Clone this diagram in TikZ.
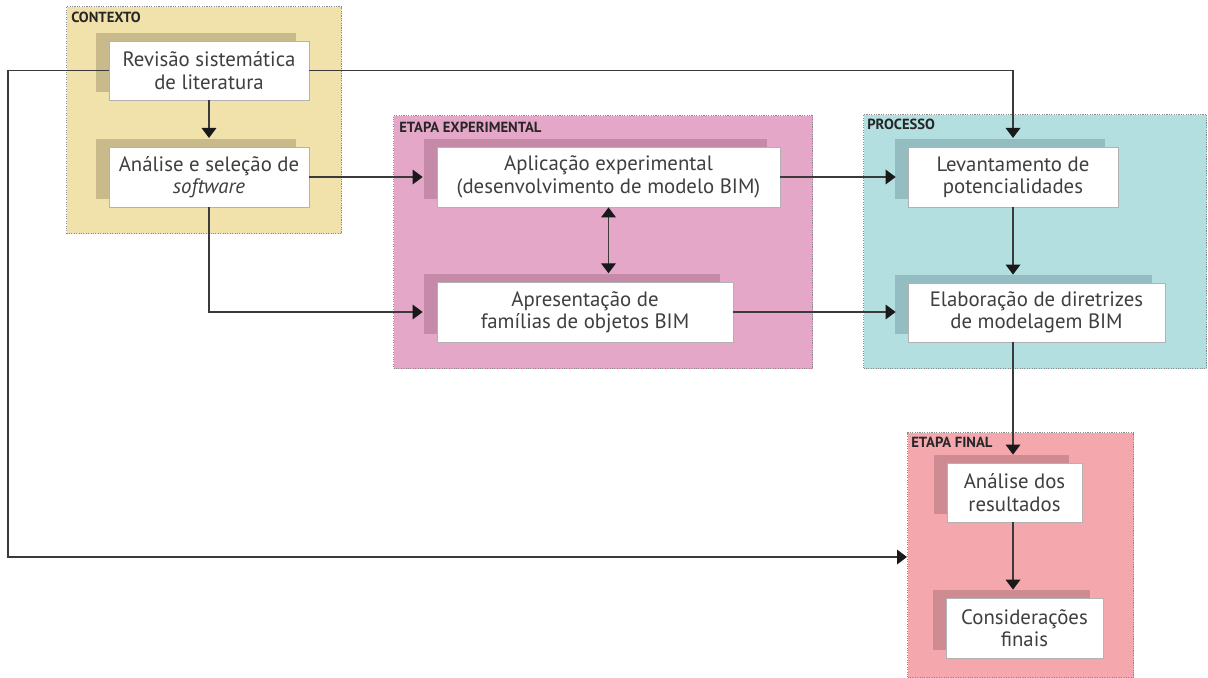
\documentclass[tikz,border=0pt]{standalone}
\usepackage{fontspec}
\setmainfont{PT Sans}
\usetikzlibrary{arrows.meta,shadows,calc}
\definecolor{ctxfill}{HTML}{F1E2AB}
\definecolor{ctxsh}{HTML}{C9BA8C}
\definecolor{expfill}{HTML}{E4A7C8}
\definecolor{expsh}{HTML}{C58AA8}
\definecolor{procfill}{HTML}{B3DFE1}
\definecolor{procsh}{HTML}{93BDC0}
\definecolor{finfill}{HTML}{F4A7AD}
\definecolor{finsh}{HTML}{CF8B92}
\definecolor{txt}{HTML}{3F3F3F}
\definecolor{ln}{HTML}{3A3A3A}
\definecolor{dotc}{HTML}{8A8A8A}
\begin{document}
\begin{tikzpicture}[x=0.75pt,y=-0.75pt,
  group/.style={draw=dotc, densely dotted, line width=0.8pt, inner sep=0pt, anchor=north west},
  grouplabel/.style={anchor=north west, inner sep=0pt, font=\bfseries\fontsize{11}{13}\selectfont, text=black!85},
  box/.style={draw=gray!60, fill=white, line width=0.6pt, align=center, inner sep=0pt, text=txt, font=\fontsize{15.6}{16.8}\selectfont},
  sh/.style={drop shadow={shadow xshift=-9.75pt, shadow yshift=6.25pt, fill=#1, opacity=1}},
  arr/.style={draw=ln, line width=1pt, -{Triangle[length=7.5pt,width=11pt,color=black!90]}},
  arrtwo/.style={draw=ln, line width=1pt, {Triangle[length=7.5pt,width=11pt,color=black!90]}-{Triangle[length=7.5pt,width=11pt,color=black!90]}}
]
\useasboundingbox (0,0) rectangle (1208,678);
\fill[white] (0,0) rectangle (1208,678);

% group boxes
\node[group, fill=ctxfill, minimum width=206.25pt, minimum height=170.25pt] (ctx) at (66,6) {};
\node[group, fill=expfill, minimum width=314.25pt, minimum height=189.75pt] (exp) at (393,115) {};
\node[group, fill=procfill, minimum width=257.25pt, minimum height=190.5pt] (proc) at (863,114) {};
\node[group, fill=finfill, minimum width=169.5pt, minimum height=183.75pt] (fin) at (907,432) {};

\node[grouplabel] (lctx) at (71,12) {CONTEXTO};
\node[grouplabel] (lexp) at (399,122) {ETAPA EXPERIMENTAL};
\node[grouplabel] (lproc) at (867,119) {PROCESSO};
\node[grouplabel] (lfin) at (911,437) {ETAPA FINAL};

% process boxes
\node[box, sh=ctxsh, minimum width=150pt, minimum height=44.25pt] (rev) at (209,70.5) {Revisão sistemática\\de literatura};
\node[box, sh=ctxsh, minimum width=150pt, minimum height=45pt] (ana) at (209,177) {Análise e seleção de\\\textit{software}};
\node[box, sh=expsh, minimum width=257.25pt, minimum height=45pt] (apl) at (608.5,177) {Aplicação experimental\\(desenvolvimento de modelo BIM)};
\node[box, sh=expsh, minimum width=222pt, minimum height=45pt] (apr) at (585,312) {Apresentação de\\famílias de objetos BIM};
\node[box, sh=procsh, minimum width=157.5pt, minimum height=45pt] (lev) at (1013,177) {Levantamento de\\potencialidades};
\node[box, sh=procsh, minimum width=192.75pt, minimum height=44.25pt] (ela) at (1036.5,312.5) {Elaboração de diretrizes\\de modelagem BIM};
\node[box, sh=finsh, minimum width=101.25pt, minimum height=44.25pt] (res) at (1014.5,492.5) {Análise dos\\resultados};
\node[box, sh=finsh, minimum width=117.75pt, minimum height=45pt] (con) at (1024.5,628) {Considerações\\finais};

% helper coordinates (shadow edges)
\coordinate (anatop) at ([yshift=6.5pt]ana.north);
\coordinate (apltip) at ([xshift=-10.5pt]apl.west);
\coordinate (aprtip) at ([xshift=-10.5pt]apr.west);
\coordinate (aprtop) at ([yshift=6.25pt]apr.north);
\coordinate (levtop) at ([yshift=6.5pt]lev.north);
\coordinate (levtip) at ([xshift=-9pt]lev.west);
\coordinate (elatip) at ([xshift=-9pt]ela.west);
\coordinate (elatop) at ([yshift=6pt]ela.north);
\coordinate (restop) at ([yshift=6pt]res.north);
\coordinate (contop) at ([yshift=6pt]con.north);
\coordinate (lc) at (8,557);

% connectors
\draw[arr] (rev.south) -- (anatop);
\draw[arr] (rev.east) -| (levtop);
\draw[arr] (rev.west) -| (lc) -- (lc -| fin.west);
\draw[arr] (ana.east) -- (apltip);
\draw[arr] (ana.south) |- (aprtip);
\draw[arrtwo] (apl.south) -- (apl.south |- aprtop);
\draw[arr] (apl.east) -- (levtip);
\draw[arr] (apr.east) -- (elatip |- apr.east);
\draw[arr] (lev.south) -- (lev.south |- elatop);
\draw[arr] (ela.south -| lev.south) -- (lev.south |- restop);
\draw[arr] (res.south -| lev.south) -- (lev.south |- contop);
\end{tikzpicture}
\end{document}
